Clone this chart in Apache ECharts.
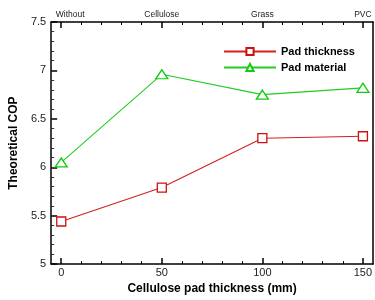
<!DOCTYPE html>
<html>
<head>
<meta charset="utf-8">
<script src="https://cdn.jsdelivr.net/npm/echarts@6/dist/echarts.min.js"></script>
<style>html,body{margin:0;padding:0;background:#fff}#c{width:375px;height:300px}</style>
</head>
<body>
<div id="c"></div>
<script>
var thickness = [0, 50, 100, 150];
var padThicknessCOP = [5.44, 5.79, 6.30, 6.32];
var padMaterialCOP = [6.05, 6.96, 6.75, 6.82];
var materialLabels = ['Without', 'Cellulose', 'Grass', 'PVC'];
var xMajorTicks = [0, 50, 100, 150];
var xMinorTicks = [10, 20, 30, 40, 60, 70, 80, 90, 110, 120, 130, 140];
var seriesNames = ['Pad thickness', 'Pad material'];

var FONT = 'Liberation Sans, Arial, sans-serif';
var chart = echarts.init(document.getElementById('c'), null, {renderer: 'canvas'});

function pairs(ys) { return thickness.map(function (x, i) { return [x, ys[i]]; }); }

var xCommon = { type: 'value', min: -5, max: 155, gridIndex: 0, splitLine: {show: false} };

chart.setOption({
  animation: false,
  backgroundColor: '#fff',
  grid: { left: 48, right: 2, top: 22, bottom: 31, containLabel: false },
  legend: {
    orient: 'vertical', left: 218, top: 41, itemWidth: 52, itemHeight: 9, itemGap: 5,
    textStyle: { fontFamily: FONT, fontWeight: 'bold', fontSize: 11, color: '#000' },
    data: seriesNames
  },
  xAxis: [
    Object.assign({}, xCommon, {
      position: 'bottom',
      name: 'Cellulose pad thickness (mm)', nameLocation: 'middle', nameGap: 13,
      nameTextStyle: { fontFamily: FONT, fontWeight: 'bold', fontSize: 12, color: '#000' },
      axisLine: { show: true, onZero: false, lineStyle: { color: '#000', width: 1.5 } },
      axisTick: { show: true, inside: true, length: 6, customValues: xMajorTicks, lineStyle: { color: '#000', width: 1.5 } },
      axisLabel: { show: true, customValues: xMajorTicks, margin: 3, fontFamily: FONT, fontSize: 11, color: '#222' }
    }),
    Object.assign({}, xCommon, {
      position: 'bottom',
      axisLine: { show: false, onZero: false },
      axisTick: { show: true, inside: true, length: 3, customValues: xMinorTicks, lineStyle: { color: '#000', width: 1 } },
      axisLabel: { show: false }
    }),
    Object.assign({}, xCommon, {
      position: 'top',
      axisLine: { show: true, onZero: false, lineStyle: { color: '#000', width: 1.5 } },
      axisTick: { show: true, inside: true, length: 6, customValues: xMajorTicks, lineStyle: { color: '#000', width: 1.5 } },
      axisLabel: {
        show: true, customValues: xMajorTicks, margin: 3, fontFamily: FONT, fontSize: 8.5, color: '#222',
        formatter: function (v) {
          var i = xMajorTicks.indexOf(v);
          var t = i >= 0 ? materialLabels[i] : '';
          return i === 0 ? '{w|' + t + '}' : t;
        },
        rich: { w: { fontFamily: FONT, fontSize: 8.5, color: '#222', padding: [0, 0, 0, 18] } }
      }
    }),
    Object.assign({}, xCommon, {
      position: 'top',
      axisLine: { show: false, onZero: false },
      axisTick: { show: true, inside: true, length: 3, customValues: xMinorTicks, lineStyle: { color: '#000', width: 1 } },
      axisLabel: { show: false }
    })
  ],
  yAxis: [
    {
      type: 'value', min: 5, max: 7.5, interval: 0.5, position: 'left',
      name: 'Theoretical COP', nameLocation: 'middle', nameGap: 21,
      nameTextStyle: { fontFamily: FONT, fontWeight: 'bold', fontSize: 12, color: '#000' },
      axisLine: { show: true, onZero: false, lineStyle: { color: '#000', width: 1.5 } },
      axisTick: { show: true, inside: true, length: 6, lineStyle: { color: '#000', width: 1.5 } },
      minorTick: { show: true, splitNumber: 5, length: 3, lineStyle: { color: '#333', width: 1 } },
      axisLabel: { margin: 5, fontFamily: FONT, fontSize: 11, color: '#222' },
      splitLine: { show: false }, minorSplitLine: { show: false }
    },
    {
      type: 'value', min: 5, max: 7.5, interval: 0.5, position: 'right',
      axisLine: { show: true, onZero: false, lineStyle: { color: '#000', width: 1.5 } },
      axisTick: { show: false }, axisLabel: { show: false }, splitLine: { show: false }
    }
  ],
  series: [
    {
      name: seriesNames[0], type: 'line', xAxisIndex: 0, yAxisIndex: 0,
      data: pairs(padThicknessCOP),
      symbol: 'rect', symbolSize: 9, showAllSymbol: true,
      itemStyle: { color: '#fff', borderColor: '#cc1111', borderWidth: 1.3 },
      lineStyle: { color: '#d42020', width: 1.1 }
    },
    {
      name: seriesNames[1], type: 'line', xAxisIndex: 0, yAxisIndex: 0,
      data: pairs(padMaterialCOP),
      symbol: 'triangle', symbolSize: [12, 9], showAllSymbol: true,
      itemStyle: { color: '#fff', borderColor: '#11cc11', borderWidth: 1.3 },
      lineStyle: { color: '#22cc22', width: 1.1 }
    }
  ]
});
</script>
</body>
</html>
